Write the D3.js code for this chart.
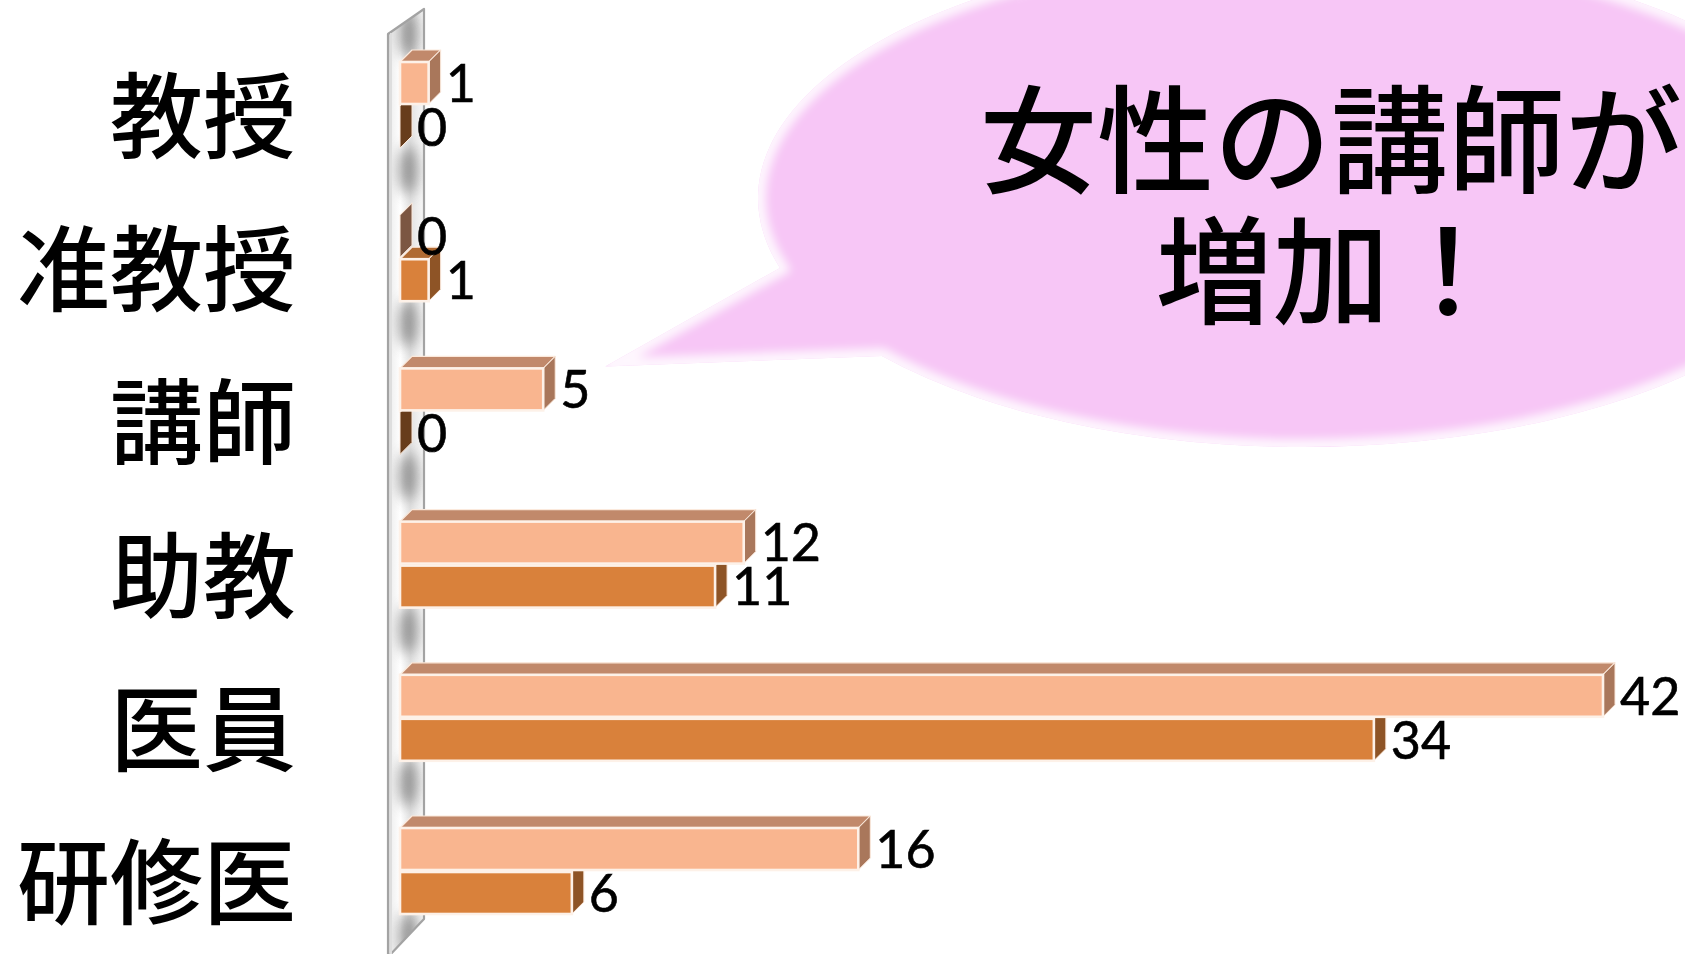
<!DOCTYPE html>
<html>
<head>
<meta charset="utf-8">
<script src="https://cdn.jsdelivr.net/npm/d3@7"></script>
<style>
  html, body { margin: 0; padding: 0; background: #ffffff; overflow: hidden; }
  svg { display: block; }
</style>
</head>
<body>
<svg id="chart" width="1685" height="954"></svg>
<script>
// Staff categories, top to bottom
const categories = ["教授", "准教授", "講師", "助教", "医員", "研修医"];
// Two series per category: the upper (light) bar and the lower (dark) bar
const lightValues = [1, 0, 5, 12, 42, 16];
const darkValues  = [0, 1, 0, 11, 34, 6];
const seriesKeys = ["light", "dark"];
// Speech-bubble message
const calloutLines = ["女性の講師が", "増加！"];
const calloutTarget = "講師";

const W = 1685, H = 954;
const svg = d3.select("#chart");
const defs = svg.append("defs");

// ---- scales ----
const x = d3.scaleLinear().domain([0, 42]).range([400, 1603]);
const y = d3.scaleBand().domain(categories)
  .range([28.4, 947.6]).paddingInner(0.4386).paddingOuter(0.2193);
const ys = d3.scaleBand().domain(seriesKeys)
  .range([0, y.bandwidth()]).paddingInner(0.0455);

// 3D extrusion of the bars
const DX = 12, DY = 12;

const palette = {
  light: { front: "#f9b58f", top: "#c1896b", side: "#a9775b" },
  dark:  { front: "#d9813b", top: "#b06a32", side: "#8e5426" }
};

const rows = categories.map((c, i) => ({
  cat: c,
  bars: [
    { cat: c, key: "light", value: lightValues[i] },
    { cat: c, key: "dark",  value: darkValues[i] }
  ]
}));

// ---- back wall (the 3D category axis plane) ----
const x0 = x(0);
const wallFront = x0 - 12, wallBack = x0 + 24;
const wallPath = `M${wallFront},34 L${wallBack},9 L${wallBack},919 L${wallFront},957 Z`;

const wallGrad = defs.append("linearGradient").attr("id", "wallGrad")
  .attr("gradientUnits", "userSpaceOnUse")
  .attr("x1", wallFront).attr("x2", wallBack).attr("y1", 0).attr("y2", 0);
[[0, "#d6d6d6"], [0.12, "#f2f2f2"], [0.35, "#ffffff"], [0.62, "#e2e2e2"], [0.85, "#f0f0f0"], [1, "#f7f7f7"]]
  .forEach(([o, c]) => wallGrad.append("stop").attr("offset", o).attr("stop-color", c));

defs.append("clipPath").attr("id", "wallClip").append("path").attr("d", wallPath);
defs.append("filter").attr("id", "soft").attr("x", "-80%").attr("y", "-80%").attr("width", "260%").attr("height", "260%")
  .append("feGaussianBlur").attr("stdDeviation", 7);

const wall = svg.append("g");
wall.append("path").attr("d", wallPath).attr("fill", "url(#wallGrad)");
// shading in the gaps between category groups
const shadeYs = [y(categories[0]) - 28].concat(categories.map(c => y(c) + y.bandwidth() + 22));
wall.append("g").attr("clip-path", "url(#wallClip)")
  .selectAll("ellipse").data(shadeYs).join("ellipse")
  .attr("cx", x0 + 8).attr("cy", d => d).attr("rx", 9).attr("ry", 24)
  .attr("fill", "#7d7d7d").attr("opacity", 0.8).attr("filter", "url(#soft)");
wall.append("path").attr("d", wallPath).attr("fill", "none")
  .attr("stroke", "#a3a3a3").attr("stroke-width", 2.2).attr("stroke-linejoin", "round");
wall.append("line").attr("x1", wallFront + 3).attr("x2", wallFront + 3)
  .attr("y1", 33).attr("y2", H).attr("stroke", "#dedede").attr("stroke-width", 2);

// ---- bars (drawn bottom-up so upper bars overlap the faces of those below) ----
const barLayer = svg.append("g");
rows.slice().reverse().forEach(row => {
  row.bars.slice().reverse().forEach(b => {
    const col = palette[b.key];
    const y0 = y(b.cat) + ys(b.key), h = ys.bandwidth();
    const xs = x(0), xe = x(b.value);
    const side = b.value === 0 ? d3.color(col.side).darker(0.9).formatHex() : col.side;
    const g = barLayer.append("g");
    // top face
    g.append("path")
      .attr("d", `M${xs},${y0} L${xs + DX},${y0 - DY} L${xe + DX},${y0 - DY} L${xe},${y0} Z`)
      .attr("fill", col.top).attr("stroke", "#fbe9dc").attr("stroke-width", 1.2).attr("stroke-linejoin", "round");
    // end (side) face
    g.append("path")
      .attr("d", `M${xe},${y0} L${xe + DX},${y0 - DY} L${xe + DX},${y0 + h - DY} L${xe},${y0 + h} Z`)
      .attr("fill", side).attr("stroke", "#fbe9dc").attr("stroke-width", 1).attr("stroke-linejoin", "round");
    // front face
    if (xe > xs) {
      g.append("rect").attr("x", xs).attr("y", y0).attr("width", xe - xs).attr("height", h)
        .attr("fill", col.front).attr("stroke", "#fdf1e8").attr("stroke-width", 2.6);
    }
  });
});

// ---- value labels ----
const allBars = rows.flatMap(r => r.bars);
svg.append("g").selectAll("text").data(allBars).join("text")
  .attr("x", d => x(d.value) + DX + 5)
  .attr("y", d => y(d.cat) + ys(d.key) + ys.bandwidth() / 2)
  .attr("dy", "0.36em")
  .attr("font-family", "Lato, 'Open Sans', sans-serif")
  .attr("font-size", 52)
  .attr("fill", "#000")
  .attr("stroke", "#000").attr("stroke-width", 0.6)
  .text(d => d.value);

// ---- category labels ----
svg.append("g").selectAll("text").data(categories).join("text")
  .attr("x", 296)
  .attr("y", d => y(d) + y.bandwidth() / 2 + 46)
  .attr("text-anchor", "end")
  .attr("font-family", "'Noto Sans CJK JP', sans-serif")
  .attr("font-weight", 500)
  .attr("font-size", 93)
  .attr("fill", "#000")
  .text(d => d);

// ---- speech bubble ----
const bub = { cx: 1303, cy: 198, rx: 545, ry: 249 };
const ang = a => [bub.cx + bub.rx * Math.cos(a * Math.PI / 180), bub.cy + bub.ry * Math.sin(a * Math.PI / 180)];
const jLow = ang(140.6), jUp = ang(163.7);
const tip = [x(lightValues[categories.indexOf(calloutTarget)]) + 62,
             y(calloutTarget) + ys("light") - 2];
const bubblePath = `M${tip[0]},${tip[1]} L${jLow[0]},${jLow[1]} ` +
  `A${bub.rx},${bub.ry} 0 1 0 ${jUp[0]},${jUp[1]} Z`;

defs.append("clipPath").attr("id", "bubClip").append("path").attr("d", bubblePath);
defs.append("filter").attr("id", "rim").attr("x", "-10%").attr("y", "-10%").attr("width", "120%").attr("height", "120%")
  .append("feGaussianBlur").attr("stdDeviation", 5);

const bubble = svg.append("g");
bubble.append("path").attr("d", bubblePath).attr("fill", "#f7c6f6");
bubble.append("g").attr("clip-path", "url(#bubClip)")
  .append("path").attr("d", bubblePath).attr("fill", "none")
  .attr("stroke", "#ffffff").attr("stroke-width", 16).attr("opacity", 0.85).attr("filter", "url(#rim)");

bubble.selectAll("text").data(calloutLines).join("text")
  .attr("x", 1331)
  .attr("y", (d, i) => 184 + i * 131)
  .attr("text-anchor", "middle")
  .attr("font-family", "'Noto Sans CJK JP', sans-serif")
  .attr("font-weight", 500)
  .attr("font-size", 117)
  .attr("fill", "#000")
  .text(d => d);
</script>
</body>
</html>
